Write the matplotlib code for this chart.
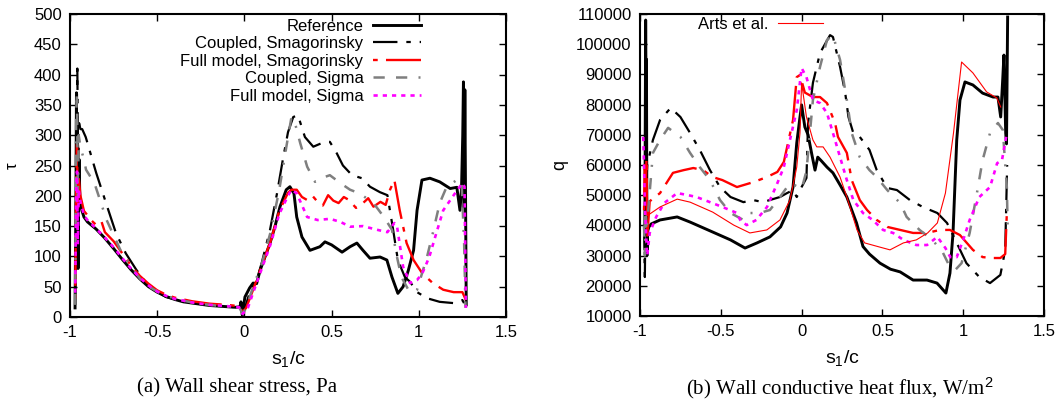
import numpy as np
import matplotlib.pyplot as plt
from matplotlib import font_manager

# ---- data: wall shear stress (left panel) ----
ref_s = [-0.971, -0.966, -0.963, -0.96, -0.957, -0.954, -0.948, -0.943, -0.931, -0.92, -0.9, -0.85, -0.8, -0.75,
         -0.7, -0.65, -0.6, -0.55, -0.5, -0.45, -0.4, -0.35, -0.3, -0.25, -0.2, -0.15, -0.1, -0.05, -0.025,
         -0.02, -0.015, -0.012, 0.003, 0.03, 0.05, 0.07, 0.09, 0.118, 0.147, 0.175, 0.204, 0.24, 0.261, 0.284,
         0.30, 0.33, 0.376, 0.433, 0.462, 0.50, 0.56, 0.606, 0.645, 0.68, 0.72, 0.778, 0.817, 0.846, 0.88,
         0.91, 0.94, 0.97, 0.99, 1.018, 1.064, 1.12, 1.18, 1.218, 1.236, 1.245, 1.252, 1.256, 1.26, 1.264,
         1.268, 1.272]
ref_tau = [15, 200, 370, 150, 330, 80, 260, 190, 175, 165, 157, 145, 130, 113,
           95, 78, 63, 50, 41, 34, 29, 25, 23, 21, 19, 18, 17, 16, 17,
           25, 10, 3, 33, 48, 56, 55, 77, 99, 122, 149, 182, 210, 215, 204,
           165, 132, 110, 116, 124, 119, 107, 116, 122, 110, 97, 99, 94, 66, 39,
           50, 77, 110, 176, 226, 229, 223, 212, 214, 176, 212, 300, 388, 170, 375,
           200, 20]

cs_s = [-0.97, -0.963, -0.958, -0.953, -0.948, -0.94, -0.93, -0.91, -0.85, -0.79, -0.736, -0.68, -0.62,
        -0.547, -0.45, -0.35, -0.25, -0.15, -0.05, -0.02, -0.01, 0.0, 0.03, 0.07, 0.1, 0.147, 0.187, 0.22,
        0.25, 0.28, 0.307, 0.347, 0.395, 0.46, 0.49, 0.53, 0.565, 0.617, 0.674, 0.72, 0.777, 0.82, 0.85,
        0.88, 0.92, 0.95, 0.99, 1.047, 1.12, 1.197, 1.25, 1.27]
cs_tau = [20, 300, 410, 250, 320, 310, 310, 297, 238, 185, 138, 105, 78,
          50, 33, 26, 22, 19, 16, 15, 5, 12, 40, 60, 90, 144, 204, 259,
          305, 330, 333, 297, 281, 289, 289, 270, 250, 234, 229, 215, 206, 201, 149,
          94, 66, 58, 41, 31, 25, 23, 28, 17]

fs_s = [-0.97, -0.965, -0.96, -0.955, -0.95, -0.94, -0.92, -0.9, -0.88, -0.85, -0.82, -0.8, -0.75, -0.7,
        -0.65, -0.6, -0.55, -0.5, -0.45, -0.4, -0.3, -0.2, -0.1, -0.03, -0.01, 0.01, 0.05, 0.1, 0.15, 0.2,
        0.25, 0.27, 0.3, 0.33, 0.36, 0.39, 0.42, 0.45, 0.48, 0.51, 0.54, 0.57, 0.6, 0.64, 0.68, 0.71, 0.74,
        0.78, 0.81, 0.835, 0.86, 0.89, 0.93, 0.97, 1.02, 1.08, 1.14, 1.2, 1.25, 1.27]
fs_tau = [30, 200, 285, 180, 230, 200, 175, 168, 160, 152, 158, 140, 125, 105,
          85, 68, 55, 44, 37, 32, 26, 22, 20, 18, 8, 15, 45, 85, 125, 175,
          205, 210, 210, 198, 193, 200, 190, 184, 201, 192, 188, 198, 193, 180, 188, 196, 182,
          190, 185, 210, 226, 177, 122, 94, 72, 56, 45, 41, 41, 28]

csig_s = [-0.97, -0.965, -0.96, -0.955, -0.95, -0.94, -0.92, -0.908, -0.86, -0.79, -0.71, -0.65, -0.58,
          -0.5, -0.4, -0.3, -0.2, -0.1, -0.03, -0.01, 0.01, 0.05, 0.1, 0.15, 0.2, 0.24, 0.27, 0.29, 0.32,
          0.36, 0.405, 0.44, 0.49, 0.55, 0.606, 0.66, 0.74, 0.8, 0.846, 0.875, 0.9, 0.94, 0.967, 0.99,
          1.047, 1.08, 1.12, 1.16, 1.218, 1.245, 1.26, 1.268]
csig_tau = [20, 330, 370, 200, 300, 280, 260, 243, 221, 160, 110, 83, 56,
            42, 30, 24, 20, 17, 16, 5, 15, 50, 88, 140, 210, 280, 330, 320, 287,
            248, 223, 229, 234, 221, 210, 204, 188, 165, 144, 99, 66, 45, 40, 45,
            99, 138, 188, 215, 226, 226, 120, 15]

fsig_s = [-0.97, -0.965, -0.96, -0.955, -0.95, -0.94, -0.92, -0.9, -0.85, -0.8, -0.75, -0.7, -0.65, -0.6,
          -0.55, -0.5, -0.45, -0.4, -0.3, -0.2, -0.1, -0.03, -0.01, 0.02, 0.05, 0.1, 0.15, 0.2, 0.25, 0.27,
          0.3, 0.36, 0.42, 0.49, 0.55, 0.606, 0.68, 0.76, 0.82, 0.86, 0.875, 0.91, 0.95, 0.99, 1.02, 1.06,
          1.1, 1.14, 1.2, 1.25, 1.262, 1.27]
fsig_tau = [40, 200, 240, 120, 210, 190, 168, 160, 146, 131, 115, 97, 80, 65,
            52, 42, 35, 30, 24, 20, 18, 16, 5, 15, 40, 80, 120, 170, 200, 210,
            204, 165, 160, 162, 157, 149, 150, 144, 140, 155, 150, 83, 56, 61, 72, 99,
            138, 176, 201, 221, 215, 15]

# ---- data: wall conductive heat flux (right panel) ----
qref_s = [-0.97, -0.965, -0.962, -0.96, -0.957, -0.953, -0.945, -0.93, -0.876, -0.77, -0.69, -0.55, -0.44,
          -0.35, -0.276, -0.196, -0.13, -0.09, -0.053, -0.03, -0.01, 0.0, 0.02, 0.04, 0.064, 0.083, 0.1,
          0.12, 0.157, 0.194, 0.238, 0.28, 0.34, 0.38, 0.42, 0.485, 0.55, 0.61, 0.69, 0.776, 0.838, 0.893,
          0.918, 0.937, 0.96, 0.98, 1.011, 1.06, 1.12, 1.185, 1.215, 1.232, 1.245, 1.252, 1.263, 1.268, 1.275]
qref_q = [37000, 108000, 80000, 95000, 30000, 38000, 39500, 40500, 41800, 42800, 41100, 37800, 35200,
          32500, 34200, 36200, 39500, 44100, 52700, 67300, 75900, 79900, 72600, 70000, 63300, 58300, 62600,
          61500, 59300, 57400, 53400, 49400, 40800, 33000, 30500, 27500, 25500, 24600, 21900, 21900, 20900, 17600,
          24200, 37500, 68300, 81500, 87500, 86500, 83800, 82500, 82500, 75900, 88800, 96400, 70600, 67000, 109000]

arts_s = [-0.95, -0.876, -0.77, -0.69, -0.55, -0.42, -0.32, -0.215, -0.134, -0.072, -0.03, -0.01, 0.0,
          0.03, 0.07, 0.094, 0.133, 0.176, 0.238, 0.28, 0.343, 0.39, 0.485, 0.547, 0.63, 0.71, 0.78, 0.84,
          0.89, 0.94, 0.99, 1.06, 1.145, 1.208, 1.232]
arts_q = [43400, 46100, 48700, 47700, 44400, 40100, 37500, 38500, 41800, 48400, 59300, 70600, 87200,
          75900, 68300, 66000, 66000, 62600, 56000, 49400, 38500, 34200, 32800, 31900, 34200, 35200, 37500, 40800,
          50700, 70600, 94100, 90500, 84200, 82200, 79200]

qcs_s = [-0.975, -0.97, -0.965, -0.955, -0.92, -0.876, -0.81, -0.75, -0.69, -0.63, -0.567, -0.505, -0.44,
         -0.36, -0.3, -0.24, -0.134, -0.09, -0.053, -0.03, 0.0, 0.03, 0.04, 0.07, 0.114, 0.176, 0.194, 0.238,
         0.27, 0.29, 0.32, 0.36, 0.42, 0.465, 0.53, 0.59, 0.67, 0.75, 0.84, 0.9, 0.96, 1.02, 1.06, 1.1,
         1.166, 1.23, 1.26, 1.272]
qcs_q = [40000, 22900, 50000, 60000, 68300, 74900, 78900, 75900, 70600, 65000, 58300, 52700, 49400,
         47700, 48400, 47700, 49400, 50700, 51700, 49400, 52700, 55700, 73900, 87200, 97100, 103000, 102400, 92500,
         83800, 75900, 70600, 69300, 65000, 58300, 52400, 51700, 48400, 46100, 44100, 40800, 34200, 27500, 25200, 22900,
         20900, 23600, 31900, 60000]

qfs_s = [-0.975, -0.97, -0.965, -0.96, -0.955, -0.95, -0.94, -0.876, -0.796, -0.73, -0.67, -0.61, -0.55,
         -0.49, -0.4, -0.3, -0.215, -0.15, -0.11, -0.084, -0.053, -0.03, -0.01, 0.02, 0.07, 0.114, 0.157,
         0.207, 0.225, 0.28, 0.31, 0.36, 0.405, 0.465, 0.53, 0.61, 0.69, 0.776, 0.856, 0.918, 0.98, 1.06,
         1.12, 1.185, 1.23, 1.26, 1.27]
qfs_q = [45000, 60000, 50000, 62000, 36200, 40000, 48000, 50700, 57400, 58300, 59000, 58300, 56000,
         55000, 52700, 54300, 56000, 57700, 61000, 67300, 74900, 89100, 89800, 84000, 82500, 82500, 80500,
         73900, 69300, 64000, 55000, 48400, 45100, 41800, 39500, 38500, 37500, 37500, 38500, 38500, 36800, 31900,
         29500, 29200, 29200, 30500, 44100]

qcsig_s = [-0.975, -0.97, -0.965, -0.96, -0.92, -0.876, -0.826, -0.75, -0.69, -0.63, -0.567, -0.505, -0.44,
           -0.36, -0.32, -0.26, -0.196, -0.134, -0.072, -0.03, 0.0, 0.03, 0.07, 0.114, 0.157, 0.194, 0.238,
           0.28, 0.31, 0.36, 0.42, 0.465, 0.53, 0.61, 0.65, 0.73, 0.81, 0.875, 0.906, 0.95, 0.99, 1.04, 1.085,
           1.12, 1.166, 1.215, 1.245, 1.27, 1.275]
qcsig_q = [40000, 30000, 45000, 38000, 64000, 68300, 72300, 69300, 64000, 59300, 55000, 48400, 44100,
           41800, 44100, 44100, 45100, 49400, 54000, 53000, 52000, 58000, 81500, 92500, 101400, 103000, 94800,
           81500, 70600, 62600, 58300, 56000, 51700, 47400, 42800, 38500, 35200, 30900, 27500, 25200, 27500, 37500, 50700,
           61600, 70600, 73900, 71600, 52700, 40000]

qfsig_s = [-0.98, -0.975, -0.97, -0.96, -0.955, -0.94, -0.9, -0.85, -0.77, -0.71, -0.65, -0.567, -0.49,
           -0.4, -0.38, -0.34, -0.28, -0.214, -0.15, -0.11, -0.072, -0.03, 0.0, 0.03, 0.07, 0.114, 0.157,
           0.194, 0.238, 0.28, 0.32, 0.38, 0.44, 0.504, 0.566, 0.63, 0.71, 0.776, 0.84, 0.89, 0.92, 0.96,
           1.0, 1.04, 1.1, 1.166, 1.21, 1.24, 1.27]
qfsig_q = [69300, 60000, 47400, 34200, 30000, 37500, 42800, 47400, 50700, 50100, 49400, 47700, 46100,
           44100, 41800, 40100, 41800, 46100, 54000, 59300, 68300, 78200, 92100, 89100, 81500, 80500, 77200,
           70600, 62600, 55000, 48400, 44100, 41800, 38500, 37500, 35200, 33500, 33500, 36200, 32500, 29500, 29500,
           35200, 41800, 49400, 52700, 60600, 61600, 70600]

names = {f.name for f in font_manager.fontManager.ttflist}
narrow = 'Liberation Sans Narrow' if 'Liberation Sans Narrow' in names else 'Liberation Sans'

plt.rcParams['font.family'] = ['Liberation Sans', 'DejaVu Sans']
plt.rcParams['font.size'] = 12
plt.rcParams['mathtext.fontset'] = 'custom'
plt.rcParams['mathtext.rm'] = narrow
plt.rcParams['mathtext.it'] = narrow

GRAY = '#7f7f7f'
MAG = '#ff00ff'
RED = '#ff0000'

styles = {
    'ref': dict(color='black', lw=2.1, ls='-'),
    'cs': dict(color='black', lw=1.6, ls=(0, (11, 4, 2, 4))),
    'fs': dict(color=RED, lw=1.7, ls=(0, (2, 3.5, 16, 3.5))),
    'csig': dict(color=GRAY, lw=1.8, ls=(0, (4.5, 4.5, 4.5, 4.5, 0.8, 4.5))),
    'fsig': dict(color=MAG, lw=1.9, ls=(0, (1.6, 1.9))),
}

fig = plt.figure(figsize=(10.63, 4.04), dpi=100)
ax1 = fig.add_axes([70 / 1063, 1 - 317 / 404, 436 / 1063, 303 / 404])
ax2 = fig.add_axes([640 / 1063, 1 - 316 / 404, 404 / 1063, 302 / 404])

ax1.plot(ref_s, ref_tau, label='Reference', **styles['ref'])
ax1.plot(cs_s, cs_tau, label='Coupled, Smagorinsky', **styles['cs'])
ax1.plot(fs_s, fs_tau, label='Full model, Smagorinsky', **styles['fs'])
ax1.plot(csig_s, csig_tau, label='Coupled, Sigma', **styles['csig'])
ax1.plot(fsig_s, fsig_tau, label='Full model, Sigma', **styles['fsig'])

ax2.plot(qref_s, qref_q, **styles['ref'])
ax2.plot(qcs_s, qcs_q, **styles['cs'])
ax2.plot(qfs_s, qfs_q, **styles['fs'])
ax2.plot(qcsig_s, qcsig_q, **styles['csig'])
ax2.plot(qfsig_s, qfsig_q, **styles['fsig'])
ax2.plot(arts_s, arts_q, color=RED, lw=0.8, label='Arts et al.')

ax1.set_xlim(-1, 1.5)
ax1.set_ylim(0, 500)
ax1.set_yticks(np.arange(0, 501, 50))
ax2.set_xlim(-1, 1.5)
ax2.set_ylim(10000, 110000)
ax2.set_yticks(np.arange(10000, 110001, 10000))

for ax in (ax1, ax2):
    ax.set_xticks([-1, -0.5, 0, 0.5, 1, 1.5])
    ax.set_xticklabels(['-1', '-0.5', '0', '0.5', '1', '1.5'], family=narrow)
    ax.tick_params(direction='in', top=True, right=True, length=5, width=1, labelsize=12, pad=6)
    for sp in ax.spines.values():
        sp.set_linewidth(1.5)
    ax.set_xlabel('s$_1$/c', family=narrow, fontsize=14, labelpad=6)

ax1.set_ylabel('τ', fontsize=12, va='center')
ax1.yaxis.set_label_coords(-0.133, 0.5)
ax2.set_ylabel('q', fontsize=13, va='center')
ax2.yaxis.set_label_coords(-0.198, 0.5)

ax1.legend(loc='upper right', bbox_to_anchor=(0.805, 0.985), markerfirst=False, frameon=False,
           borderpad=0, borderaxespad=0, handlelength=2.9, handletextpad=0.55, labelspacing=0.15)
ax2.legend(loc='upper right', bbox_to_anchor=(0.453, 0.99), markerfirst=False, frameon=False,
           borderpad=0, borderaxespad=0, handlelength=2.7, handletextpad=0.6)

fig.text(237 / 1063, 1 - 388 / 404, '(a) Wall shear stress, Pa', ha='center', va='center',
         family='Liberation Serif', fontsize=15)
fig.text(840 / 1063, 1 - 388 / 404, '(b) Wall conductive heat flux, W/m$^2$', ha='center', va='center',
         family='Liberation Serif', fontsize=15)

fig.savefig('out.png', dpi=100)
